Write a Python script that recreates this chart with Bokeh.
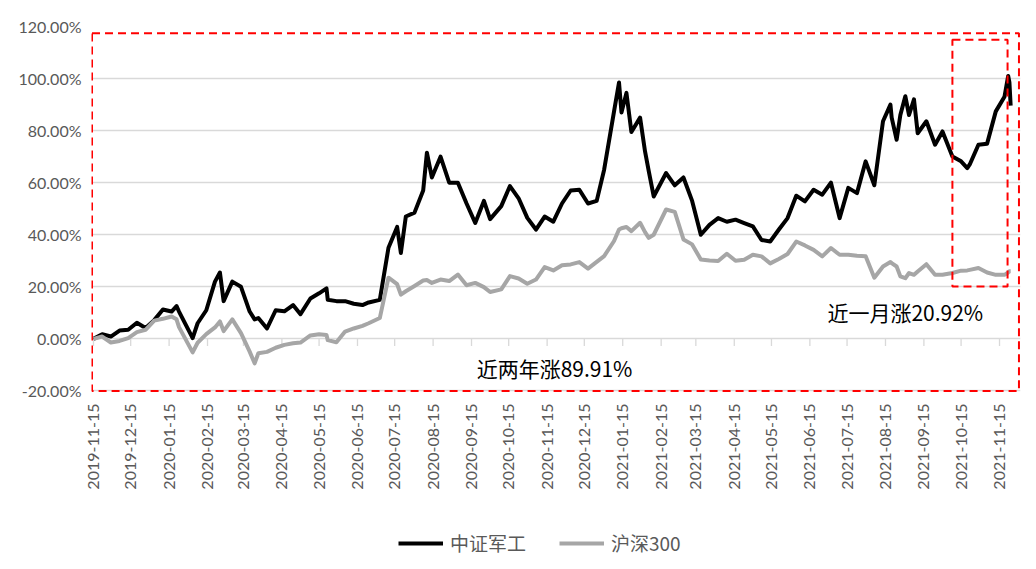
import pandas as pd
from math import pi
from bokeh.plotting import figure
from bokeh.layouts import column
from bokeh.models import (Range1d, FixedTicker, PrintfTickFormatter, DatetimeTickFormatter,
                          Legend, LegendItem, Label)
from bokeh.embed import file_html
from bokeh.resources import INLINE

# ---------------- data ----------------
dates = [
    "2019-11-15", "2019-11-22", "2019-11-29", "2019-12-06", "2019-12-13", "2019-12-20", "2019-12-27",
    "2020-01-03", "2020-01-10", "2020-01-17", "2020-01-21", "2020-01-23", "2020-02-03", "2020-02-07",
    "2020-02-14", "2020-02-21", "2020-02-25", "2020-02-28", "2020-03-06", "2020-03-13", "2020-03-20",
    "2020-03-24", "2020-03-27", "2020-04-03", "2020-04-10", "2020-04-17", "2020-04-24", "2020-04-30",
    "2020-05-08", "2020-05-15", "2020-05-21", "2020-05-22", "2020-05-29", "2020-06-05", "2020-06-12",
    "2020-06-19", "2020-06-24", "2020-07-03", "2020-07-10", "2020-07-17", "2020-07-20", "2020-07-24",
    "2020-07-31", "2020-08-07", "2020-08-10", "2020-08-14", "2020-08-21", "2020-08-28", "2020-09-04",
    "2020-09-11", "2020-09-18", "2020-09-25", "2020-09-30", "2020-10-09", "2020-10-16", "2020-10-23",
    "2020-10-30", "2020-11-06", "2020-11-13", "2020-11-20", "2020-11-27", "2020-12-04", "2020-12-11",
    "2020-12-18", "2020-12-25", "2020-12-31", "2021-01-08", "2021-01-12", "2021-01-14", "2021-01-18",
    "2021-01-22", "2021-01-29", "2021-02-02", "2021-02-05", "2021-02-09", "2021-02-19", "2021-02-26",
    "2021-03-05", "2021-03-12", "2021-03-19", "2021-03-26", "2021-04-02", "2021-04-09", "2021-04-16",
    "2021-04-23", "2021-04-30", "2021-05-07", "2021-05-14", "2021-05-21", "2021-05-28", "2021-06-04",
    "2021-06-11", "2021-06-18", "2021-06-25", "2021-07-02", "2021-07-09", "2021-07-16", "2021-07-23",
    "2021-07-30", "2021-08-06", "2021-08-13", "2021-08-19", "2021-08-20", "2021-08-24", "2021-08-27",
    "2021-08-31", "2021-09-03", "2021-09-07", "2021-09-10", "2021-09-17", "2021-09-24", "2021-09-30",
    "2021-10-08", "2021-10-15", "2021-10-20", "2021-10-22", "2021-10-29", "2021-11-05", "2021-11-12",
    "2021-11-19", "2021-11-22", "2021-11-23", "2021-11-24",
]

# 中证军工 cumulative return (%)
junggong = [
    0.0, 1.8, 0.9, 3.2, 3.5, 6.2, 4.2,
    7.2, 11.3, 10.5, 12.6, 10.5, 0.3, 6.0,
    11.0, 22.0, 25.5, 14.5, 22.0, 20.0, 10.5,
    7.5, 8.0, 4.0, 11.0, 10.6, 13.0, 9.5,
    15.5, 17.5, 19.4, 15.0, 14.5, 14.5, 13.5,
    13.0, 14.0, 15.0, 35.0, 43.0, 33.0, 47.0,
    48.5, 57.0, 71.5, 62.0, 70.0, 60.0, 60.0,
    52.0, 44.5, 53.0, 46.0, 51.0, 58.7, 54.0,
    46.5, 42.0, 47.0, 45.0, 52.0, 57.0, 57.3,
    52.0, 53.0, 65.0, 87.4, 98.5, 87.0, 94.5,
    79.5, 85.0, 72.0, 64.4, 54.7, 63.7, 59.0,
    62.0, 53.0, 40.0, 43.8, 46.4, 45.0, 45.8,
    44.5, 43.2, 38.0, 37.4, 42.0, 46.4, 55.0,
    52.8, 57.3, 55.4, 60.0, 46.4, 58.0, 56.0,
    68.2, 59.0, 83.6, 90.0, 85.0, 76.5, 86.0,
    93.2, 86.0, 92.0, 79.0, 83.6, 74.6, 79.7,
    70.1, 68.2, 65.6, 67.0, 74.6, 75.0, 87.4,
    93.0, 101.0, 98.5, 89.6,
]

# 沪深300 cumulative return (%)
hs300 = [
    0.0, 0.9, -1.4, -0.8, 0.3, 2.6, 3.5,
    7.0, 7.7, 8.6, 7.5, 4.5, -5.2, -1.5,
    1.8, 4.4, 6.7, 3.0, 7.5, 2.2, -4.9,
    -9.4, -5.5, -5.0, -3.4, -2.3, -1.7, -1.4,
    1.3, 1.8, 1.5, -0.5, -1.3, 2.8, 4.0,
    5.0, 6.0, 8.0, 23.5, 21.0, 17.0, 18.3,
    20.3, 22.4, 22.6, 21.5, 22.8, 22.2, 24.7,
    20.6, 21.5, 19.9, 18.0, 19.0, 24.1, 23.2,
    21.2, 22.8, 27.6, 26.3, 28.3, 28.6, 29.5,
    27.0, 29.6, 31.8, 37.6, 42.0, 42.5, 43.0,
    41.4, 44.6, 41.0, 38.8, 40.0, 49.7, 48.8,
    38.2, 36.3, 30.5, 30.1, 29.9, 32.7, 30.0,
    30.4, 32.3, 31.7, 29.0, 30.7, 32.6, 37.4,
    35.9, 34.2, 31.7, 34.9, 32.3, 32.3, 31.9,
    31.7, 23.5, 27.8, 29.5, 29.1, 27.8, 24.0,
    23.3, 25.3, 24.6, 25.9, 28.7, 24.6, 24.6,
    25.3, 26.2, 26.3, 26.5, 27.2, 25.5, 24.6,
    24.6, 25.5, 26.0, 26.0,
]

series_names = ["中证军工", "沪深300"]
x_tick_labels = [
    "2019-11-15", "2019-12-15", "2020-01-15", "2020-02-15", "2020-03-15", "2020-04-15",
    "2020-05-15", "2020-06-15", "2020-07-15", "2020-08-15", "2020-09-15", "2020-10-15",
    "2020-11-15", "2020-12-15", "2021-01-15", "2021-02-15", "2021-03-15", "2021-04-15",
    "2021-05-15", "2021-06-15", "2021-07-15", "2021-08-15", "2021-09-15", "2021-10-15",
    "2021-11-15",
]
y_ticks = [-20, 0, 20, 40, 60, 80, 100, 120]
note_two_years = "近两年涨89.91%"
note_one_month = "近一月涨20.92%"

# ---------------- helpers ----------------
EPOCH = pd.Timestamp("1970-01-01")


def to_ms(ts):
    return (pd.Timestamp(ts) - EPOCH) / pd.Timedelta(milliseconds=1)


x = [pd.Timestamp(d) for d in dates]
tick_ms = [to_ms(t) for t in x_tick_labels]
start = pd.Timestamp(dates[0])
DAY = pd.Timedelta(days=1)

GRID = "#d9d9d9"
TXT = "#595959"
BLACK = "#000000"
GREY = "#a6a6a6"

p = figure(
    width=1028, height=530,
    x_axis_type="datetime",
    output_backend="svg", toolbar_location=None,
    x_range=Range1d(start - 1.614 * DAY, start + 747.94 * DAY),
    y_range=Range1d(-20.6, 120),
    min_border_left=91, min_border_right=8, min_border_top=26, min_border_bottom=138,
)
p.outline_line_color = None
p.background_fill_color = "white"
p.border_fill_color = "white"

# axes
p.xaxis.ticker = FixedTicker(ticks=tick_ms)
fmt = "%Y-%m-%d"
p.xaxis.formatter = DatetimeTickFormatter(
    milliseconds=fmt, seconds=fmt, minsec=fmt, minutes=fmt, hourmin=fmt, hours=fmt,
    days=fmt, months=fmt, years=fmt)
p.xaxis.major_label_orientation = pi / 2
p.xaxis.axis_line_color = None
p.xaxis.major_tick_line_color = None
p.xaxis.minor_tick_line_color = None
p.xaxis.major_tick_out = 0
p.xaxis.major_tick_in = 0
p.xaxis.major_label_standoff = 11
p.xaxis.major_label_text_font = "Lato"
p.xaxis.major_label_text_font_size = "16px"
p.xaxis.major_label_text_color = TXT

p.yaxis.ticker = FixedTicker(ticks=y_ticks)
p.yaxis.formatter = PrintfTickFormatter(format="%.2f%%")
p.yaxis.axis_line_color = None
p.yaxis.major_tick_line_color = None
p.yaxis.minor_tick_line_color = None
p.yaxis.major_tick_out = 0
p.yaxis.major_tick_in = 0
p.yaxis.major_label_standoff = 10
p.yaxis.major_label_text_font = "Lato"
p.yaxis.major_label_text_font_size = "16px"
p.yaxis.major_label_text_color = TXT

p.xgrid.visible = False
p.ygrid.grid_line_color = GRID
p.ygrid.grid_line_width = 1.3

# small tick marks hanging below the 0% axis line
tick_ts = [pd.Timestamp(t) for t in x_tick_labels]
p.segment(x0=tick_ts, y0=[0] * len(tick_ts), x1=tick_ts, y1=[-2.7] * len(tick_ts),
          line_color=GRID, line_width=1.3)

# series
r1 = p.line(x, junggong, line_color=BLACK, line_width=4, line_join="round")
r2 = p.line(x, hs300, line_color=GREY, line_width=4, line_join="round")

# red dashed highlight boxes
p.quad(left=[start - 1.2 * DAY], right=[start + 746.7 * DAY], top=[117.4], bottom=[-20.0],
       fill_color=None, line_color="#ff0000", line_width=2, line_dash="8 5")
p.quad(left=[pd.Timestamp("2021-10-08")], right=[pd.Timestamp("2021-11-21 12:00")],
       top=[114.9], bottom=[20.1],
       fill_color=None, line_color="#ff0000", line_width=2, line_dash="8 5")

# notes
p.add_layout(Label(x=to_ms("2020-11-21"), y=-11.2, text=note_two_years,
                   text_align="center", text_baseline="middle",
                   text_font="Noto Sans CJK SC", text_font_size="21px", text_color="black"))
p.add_layout(Label(x=to_ms("2021-08-31"), y=10.4, text=note_one_month,
                   text_align="center", text_baseline="middle",
                   text_font="Noto Sans CJK SC", text_font_size="21px", text_color="black"))

# ---------------- legend strip under the chart ----------------
lp = figure(width=1028, height=31, output_backend="svg", toolbar_location=None,
            x_axis_location=None, y_axis_location=None,
            x_range=Range1d(0, 1), y_range=Range1d(0, 1),
            min_border_left=0, min_border_right=0, min_border_top=0, min_border_bottom=0)
lp.outline_line_color = None
lp.grid.visible = False
lp.background_fill_color = "white"
lp.border_fill_color = "white"
nan = float("nan")
# legend keys only (no visible data)
k1 = lp.line([0, 1], [nan, nan], line_color=BLACK, line_width=4)
k2 = lp.line([0, 1], [nan, nan], line_color=GREY, line_width=4)

legend = Legend(
    items=[LegendItem(label=series_names[0], renderers=[k1]),
           LegendItem(label=series_names[1], renderers=[k2])],
    location=(307, 5), orientation="horizontal",
    border_line_color=None, background_fill_alpha=0,
    padding=0, margin=0, spacing=33,
    glyph_width=45, glyph_height=20, label_height=20, label_standoff=7,
    label_text_font="Noto Sans CJK SC", label_text_font_size="19px",
    label_text_color=TXT, label_text_baseline="middle",
)
lp.add_layout(legend)

layout = column(p, lp, spacing=0)

with open("out.html", "w", encoding="utf-8") as f:
    f.write(file_html(layout, INLINE, title="中证军工 vs 沪深300"))
